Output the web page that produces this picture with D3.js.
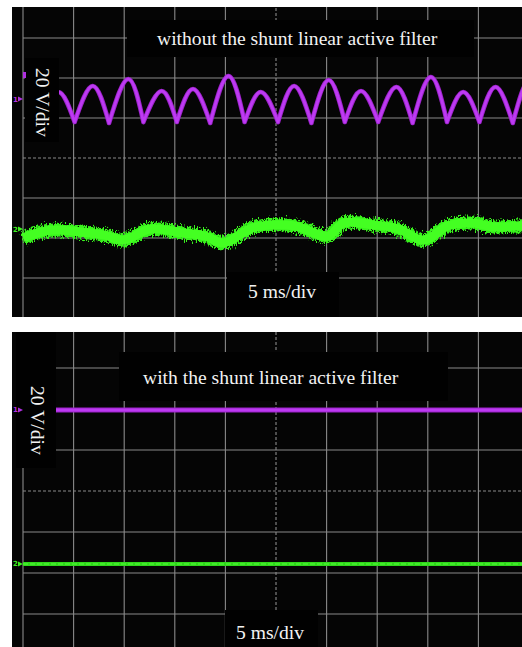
<!DOCTYPE html>
<html>
<head>
<meta charset="utf-8">
<title>Scope traces with and without the shunt linear active filter</title>
<script src="https://cdn.jsdelivr.net/npm/d3@7/dist/d3.min.js"></script>
<style>
  body { margin: 0; background: #fff; }
  svg { display: block; }
  .label { font-family: "Liberation Serif", "Times New Roman", serif; font-size: 19.6px; fill: #f2f2f2; }
  .mark { font-family: "DejaVu Sans", sans-serif; font-size: 7px; font-weight: bold; }
</style>
</head>
<body>
<svg id="scope" width="522" height="647"></svg>
<script>
// time base 5 ms/div, 10 divisions across
var timeTicks = [0, 5, 10, 15, 20, 25, 30, 35, 40, 45, 50];
// 8 vertical divisions
var divTicks = [-4, -3, -2, -1, 0, 1, 2, 3, 4];
var voltsPerDiv = 20;

// ---- without the filter ----
// ch1 (purple): rectified ripple, cusps and crests (ms, V about the ch1 marker)
var ch1TroughT = [1.8, 5.1, 8.5, 11.9, 15.2, 18.5, 21.9, 25.2, 28.5, 31.8, 35.1, 38.5, 41.9, 45.1, 48.4, 51.8];
var ch1TroughV = [-11.5, -11.5, -12, -11.5, -11.5, -12, -11.5, -11.5, -12, -11.5, -11.5, -12, -11.5, -11.5, -12, -11.5];
var ch1PeakT = [3.5, 6.9, 10.4, 13.7, 16.8, 20.3, 23.5, 26.8, 30.2, 33.4, 36.9, 40.3, 43.5, 46.7, 50.1];
var ch1PeakV = [3.5, 6.5, 10, 4, 5, 11.5, 3.5, 6.5, 9.5, 4, 6, 11, 3.5, 6, 9.5];
// ch2 (green): line current, in divisions about the ch2 marker
var ch2T = [0, 2.7, 5.9, 8.2, 9.9, 12.6, 15.8, 18.0, 19.8, 22.7, 26.8, 30.1, 31.7, 34.7, 37.1, 39.6, 42.0, 44.3, 46.5, 49.2, 50.5];
var ch2V = [-0.22, -0.03, -0.08, -0.16, -0.28, 0, -0.1, -0.18, -0.35, 0.03, 0.08, -0.18, 0.15, 0.1, 0, -0.28, 0.08, 0.15, 0.05, 0.08, 0.08];

// ---- with the filter ----
var ch1FlatT = [0, 50.5];
var ch1FlatV = [0, 0];
var ch2FlatT = [0, 50.5];
var ch2FlatV = [0, 0];

var panels = [
  {
    top: 7, bottom: 317, gridTop: -2, gridBottom: 318,
    ch1Pos: 1.475, ch2Pos: -1.775, trigPos: 2.05,
    title: 'without the shunt linear active filter', titleX: 157, titleY: 45,
    vdivX: 36, vdivY: 68, msX: 248, msY: 298,
    boxes: [[127, 20, 347, 37], [25, 58, 34, 84], [227, 272, 112, 45]],
    ch1: d3.range(ch1PeakT.length).map(i => [
      [ch1TroughT[i], ch1TroughV[i]], [ch1PeakT[i], ch1PeakV[i]], [ch1TroughT[i + 1], ch1TroughV[i + 1]]
    ]),
    ch1Curve: d3.curveNatural,
    ch2: ch2T.map((t, i) => [t, ch2V[i]]),
    noisy: true
  },
  {
    top: 332, bottom: 647, gridTop: 327, gridBottom: 655,
    ch1Pos: 1.976, ch2Pos: -1.78, trigPos: null,
    title: 'with the shunt linear active filter', titleX: 143, titleY: 384,
    vdivX: 31, vdivY: 386, msX: 236, msY: 639,
    boxes: [[119, 352, 329, 49], [16, 332, 40, 136], [225, 610, 93, 37]],
    ch1: [ch1FlatT.map((t, i) => [t, ch1FlatV[i]])],
    ch1Curve: d3.curveLinear,
    ch2: ch2FlatT.map((t, i) => [t, ch2FlatV[i]]),
    noisy: false
  }
];

var svg = d3.select('#scope');
var defs = svg.append('defs');

// fuzzy edge for the noisy current trace
var fuzz = defs.append('filter').attr('id', 'fuzz')
  .attr('filterUnits', 'userSpaceOnUse')
  .attr('x', 0).attr('y', 0).attr('width', 522).attr('height', 647);
fuzz.append('feTurbulence').attr('type', 'fractalNoise')
  .attr('baseFrequency', '0.9 0.35').attr('numOctaves', 2).attr('seed', 7).attr('result', 'n');
fuzz.append('feDisplacementMap').attr('in', 'SourceGraphic').attr('in2', 'n')
  .attr('scale', 11).attr('xChannelSelector', 'R').attr('yChannelSelector', 'G');

var glow = defs.append('filter').attr('id', 'glow')
  .attr('filterUnits', 'userSpaceOnUse')
  .attr('x', 0).attr('y', 0).attr('width', 522).attr('height', 647);
glow.append('feGaussianBlur').attr('stdDeviation', 0.7);

var x = d3.scaleLinear().domain([0, 50]).range([23, 529]);

panels.forEach((p, k) => {
  var y = d3.scaleLinear().domain([-4, 4]).range([p.gridBottom, p.gridTop]);
  var g = svg.append('g');

  defs.append('clipPath').attr('id', 'clip' + k)
    .append('rect').attr('x', 12).attr('y', p.top).attr('width', 510).attr('height', p.bottom - p.top);

  g.append('rect')
    .attr('x', 12).attr('y', p.top)
    .attr('width', 510).attr('height', p.bottom - p.top)
    .attr('fill', '#050505');

  var grid = g.append('g').attr('clip-path', 'url(#clip' + k + ')')
    .attr('stroke', '#8a8a8a').attr('stroke-width', 1.1);

  grid.selectAll('.vline')
    .data(timeTicks)
    .enter().append('line')
    .attr('x1', d => x(d)).attr('x2', d => x(d))
    .attr('y1', p.gridTop).attr('y2', p.gridBottom)
    .attr('stroke-dasharray', d => d === 25 ? '3 2' : null);

  grid.selectAll('.hline')
    .data(divTicks)
    .enter().append('line')
    .attr('x1', x(0)).attr('x2', x(50))
    .attr('y1', d => y(d)).attr('y2', d => y(d))
    .attr('stroke-dasharray', d => d === 0 ? '3 2' : null);

  var traces = g.append('g').attr('clip-path', 'url(#clip' + k + ')');

  var line1 = d3.line()
    .x(d => x(d[0]))
    .y(d => y(p.ch1Pos + d[1] / voltsPerDiv))
    .curve(p.ch1Curve);
  var d1 = p.ch1.map(line1).join('');

  var line2 = d3.line()
    .x(d => x(d[0]))
    .y(d => y(p.ch2Pos + d[1]))
    .curve(d3.curveCatmullRom);

  if (p.noisy) {
    traces.append('path')
      .attr('d', line2(p.ch2))
      .attr('fill', 'none')
      .attr('stroke', '#37f21c')
      .attr('stroke-width', 13)
      .attr('filter', 'url(#fuzz)');
    traces.append('path')
      .attr('d', line2(p.ch2))
      .attr('fill', 'none')
      .attr('stroke', '#44ff22')
      .attr('stroke-width', 9);
  } else {
    traces.append('path')
      .attr('d', line2(p.ch2))
      .attr('fill', 'none')
      .attr('stroke', '#2fd81a')
      .attr('stroke-width', 4.2);
    traces.append('path')
      .attr('d', line2(p.ch2))
      .attr('fill', 'none')
      .attr('stroke', '#48f030')
      .attr('stroke-width', 1.6)
      .attr('stroke-dasharray', '5 2');
  }

  traces.append('path')
    .attr('d', d1)
    .attr('fill', 'none')
    .attr('stroke', '#9a22c8')
    .attr('stroke-width', p.noisy ? 4.6 : 5)
    .attr('stroke-linecap', 'round')
    .attr('filter', 'url(#glow)');
  traces.append('path')
    .attr('d', d1)
    .attr('fill', 'none')
    .attr('stroke', '#bd3af2')
    .attr('stroke-width', p.noisy ? 2.8 : 3.2)
    .attr('stroke-linecap', 'round');

  // black patches behind the annotations
  g.selectAll('.box')
    .data(p.boxes)
    .enter().append('rect')
    .attr('x', d => d[0]).attr('y', d => d[1])
    .attr('width', d => d[2]).attr('height', d => d[3])
    .attr('fill', '#010101');

  g.append('text').attr('class', 'label')
    .attr('x', p.titleX).attr('y', p.titleY)
    .text(p.title);

  g.append('text').attr('class', 'label')
    .attr('transform', 'translate(' + p.vdivX + ',' + p.vdivY + ') rotate(90)')
    .text('20 V/div');

  g.append('text').attr('class', 'label')
    .attr('x', p.msX).attr('y', p.msY)
    .text('5 ms/div');

  // channel markers on the left edge
  [[p.ch1Pos, '1', '#b030e0'], [p.ch2Pos, '2', '#3cf020']].forEach(m => {
    var my = y(m[0]);
    g.append('path')
      .attr('d', 'M18,' + (my - 2.5) + 'L23,' + my + 'L18,' + (my + 2.5) + 'Z')
      .attr('fill', m[2]);
    g.append('text').attr('class', 'mark')
      .attr('x', 13).attr('y', my + 2.5)
      .attr('fill', m[2])
      .text(m[1]);
  });
  if (p.trigPos !== null) {
    g.append('rect')
      .attr('x', 23).attr('y', y(p.trigPos) - 4)
      .attr('width', 3).attr('height', 6)
      .attr('fill', '#b030e0');
  }
});
</script>
</body>
</html>
